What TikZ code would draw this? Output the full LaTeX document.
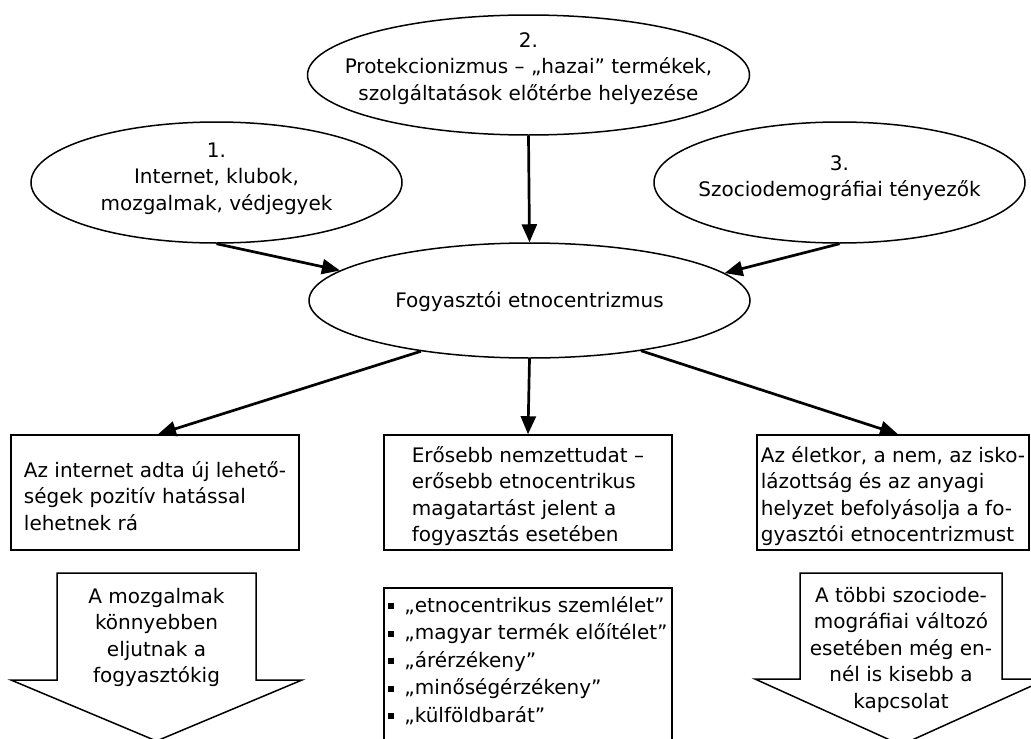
\documentclass[tikz,border=0pt]{standalone}
\usepackage{fontspec}
\setmainfont{DejaVu Sans}
\usetikzlibrary{arrows.meta,shapes.geometric}
\newcommand{\ct}[1]{\makebox[0pt]{\begin{tabular}[t]{@{}c@{}}#1\end{tabular}}}
\newcommand{\lt}[1]{\makebox[0pt]{\begin{tabular}[t]{@{}l@{}}#1\end{tabular}}}
\newcommand{\sqb}{\rule[3pt]{6pt}{6pt}\hspace{10pt}}
\begin{document}
\begin{tikzpicture}[x=1pt,y=-1pt,
  every node/.style={font=\fontsize{20}{26.5}\selectfont, inner sep=0pt},
  oval/.style={draw, ellipse, line width=1.5pt, text height=0pt},
  sqbox/.style={draw, rectangle, line width=1.5pt, text height=0pt, minimum height=115pt},
  conn/.style={line width=2.7pt, -{Triangle[length=18pt,width=15pt]}},
  bigarrow/.style={draw, line width=1.5pt, line join=miter}
]
\useasboundingbox (0,0) rectangle (1031,739);
\clip (0,0) rectangle (1031,739);

% top ellipses
\node[oval, minimum width=442pt, minimum height=120pt, text depth=56pt] (e2) at (528.5,75)
  {\ct{2.\\Protekcionizmus – „hazai” termékek,\\szolgáltatások előtérbe helyezése}};
\node[oval, minimum width=371pt, minimum height=121pt, text depth=51pt] (e1) at (216.5,182.5)
  {\ct{1.\\Internet, klubok,\\mozgalmak, védjegyek}};
\node[oval, minimum width=371pt, minimum height=121pt, text depth=25pt] (e3) at (839.5,182.5)
  {\ct{3.\\Szociodemográfiai tényezők}};
\node[oval, minimum width=441pt, minimum height=115pt, text height=13pt, text depth=0pt] (c) at (529.5,300.5)
  {\ct{Fogyasztói etnocentrizmus}};

% boxes
\node[sqbox, minimum width=288pt, text depth=31pt] (lb) at (155,492.5)
  {\lt{Az internet adta új lehető-\\ségek pozitív hatással\\lehetnek rá}};
\node[sqbox, minimum width=288pt, text depth=61pt] (mb) at (528,492.5)
  {\lt{Erősebb nemzettudat –\\erősebb etnocentrikus\\magatartást jelent a\\fogyasztás esetében}};
\node[sqbox, minimum width=272pt, text depth=61pt] (rb) at (893,492.5)
  {\lt{Az életkor, a nem, az isko-\\lázottság és az anyagi\\helyzet befolyásolja a fo-\\gyasztói etnocentrizmust}};

% list box
\node[sqbox, minimum width=288pt, minimum height=154pt, text depth=106pt] (ml) at (528,665)
  {\renewcommand{\arraystretch}{1.04}\lt{\sqb„etnocentrikus szemlélet”\\\sqb„magyar termék előítélet”\\\sqb„árérzékeny”\\\sqb„minőségérzékeny”\\\sqb„külföldbarát”}};

% big down arrows
\draw[bigarrow] (57,573) -- (256,573) -- (256,680) -- (302,680) -- (156.5,741) -- (11,680) -- (57,680) -- cycle;
\node[anchor=base] (lt) at (156.5,603) {\ct{A mozgalmak\\könnyebben\\eljutnak a\\fogyasztókig}};
\draw[bigarrow] (800,573) -- (1002,573) -- (1002,679) -- (1047,679) -- (901,745) -- (755,679) -- (800,679) -- cycle;
\node[anchor=base] (rt) at (901,602) {\ct{A többi szociode-\\mográfiai változó\\esetében még en-\\nél is kisebb a\\kapcsolat}};

% connectors
\draw[conn] (e2.south) -- (c.north);
\draw[conn] (e1.south) -- (c.171.7);
\draw[conn] (e3.south) -- (c.8.3);
\draw[conn] ([xshift=-108.5pt,yshift=7.5pt]c.south) -- ([xshift=3pt]lb.north);
\draw[conn] (c.south) -- (mb.north);
\draw[conn] ([xshift=111.5pt,yshift=8pt]c.south) -- ([xshift=5pt]rb.north);
\end{tikzpicture}
\end{document}
